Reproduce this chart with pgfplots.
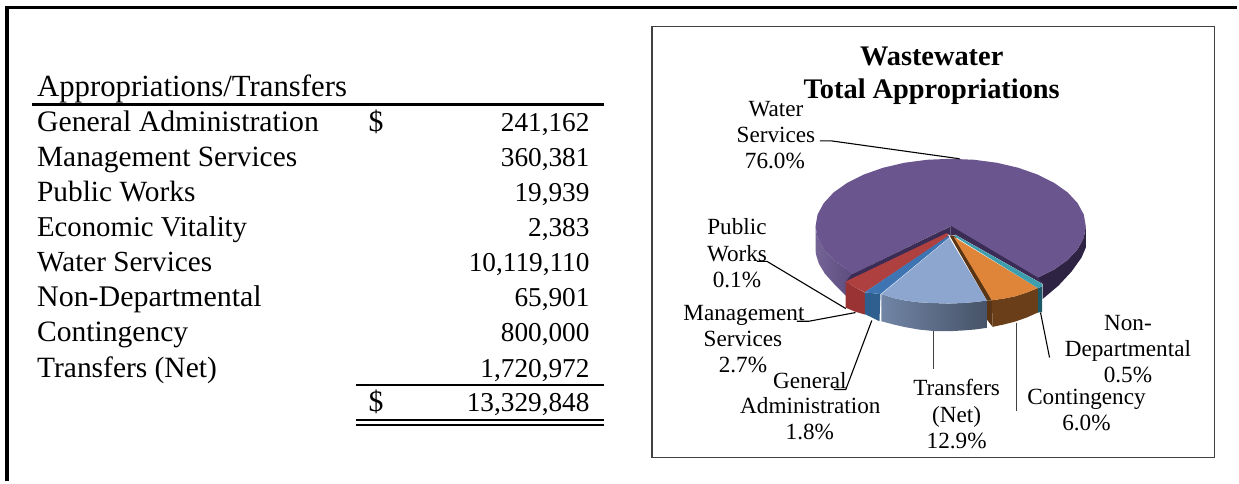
\documentclass[border=0pt]{standalone}
\usepackage{fontspec}
\setmainfont{Liberation Serif}
\usepackage{pgfplots}
\pgfplotsset{compat=1.18}
\definecolor{purpTop}{HTML}{6B558F}
\definecolor{purpSideL}{HTML}{65528A}
\definecolor{purpSideR}{HTML}{2E2342}
\definecolor{purpWall}{HTML}{3A2C55}
\definecolor{redTop}{HTML}{AF4040}
\definecolor{redSide}{HTML}{9A3434}
\definecolor{bluTop}{HTML}{3F74B2}
\definecolor{bluSide}{HTML}{2E5F8E}
\definecolor{trTop}{HTML}{8DA6CF}
\definecolor{orTop}{HTML}{DF853A}
\definecolor{orSide}{HTML}{6A3E18}
\definecolor{orWall}{HTML}{5A3515}
\definecolor{tlTop}{HTML}{3E9EAE}
\definecolor{tlSide}{HTML}{1C5866}
\newcommand{\lab}[3]{\node[anchor=base,font=\fontsize{23.2}{26}\selectfont,inner sep=0pt] at (axis cs:#1,#2) {#3};}
\newcommand{\ttl}[3]{\node[anchor=base,font=\fontsize{28.4}{32}\selectfont\bfseries,inner sep=0pt] at (axis cs:#1,#2) {#3};}
\newcommand{\rowl}[3]{\node[anchor=base west,font=\fontsize{#2}{34}\selectfont,inner sep=0pt] at (axis cs:37,#1) {#3};}
\newcommand{\rowr}[2]{\node[anchor=base east,font=\fontsize{27.3}{34}\selectfont,inner sep=0pt] at (axis cs:590.5,#1) {#2};}
\newcommand{\rowd}[1]{\node[anchor=base west,font=\fontsize{29.8}{34}\selectfont,inner sep=0pt] at (axis cs:369,#1) {\$};}
\begin{document}
\begin{tikzpicture}
\begin{axis}[
  scale only axis, width=1239pt, height=482pt,
  xmin=0, xmax=1239, ymin=0, ymax=482, y dir=reverse,
  hide axis, clip=false]
% page background
\addplot[fill=white,draw=none] coordinates {(0,0)(1239,0)(1239,482)(0,482)} -- cycle;
% outer frame
\addplot[black,line width=3.5pt] coordinates {(7,482)(7,7.5)(1239,7.5)};
% chart frame
\addplot[fill=white,draw=black!75,line width=1.3pt] coordinates {(653,26.7)(1216,26.7)(1216,458)(653,458)} -- cycle;
% table rules
\addplot[black,line width=3pt] coordinates {(32,104.5)(605,104.5)};
\addplot[black,line width=2.6pt] coordinates {(356,385.7)(605,385.7)};
\addplot[black,line width=2.6pt] coordinates {(356,420.7)(605,420.7)};
\addplot[black,line width=2.6pt] coordinates {(356,425.5)(605,425.5)};
% table text
\rowl{97}{30.8}{Appropriations/Transfers}
\rowl{132}{29.8}{General Administration}\rowd{132}\rowr{132}{241,162}
\rowl{167}{29.4}{Management Services}\rowr{167}{360,381}
\rowl{202}{29.4}{Public Works}\rowr{202}{19,939}
\rowl{237}{28.8}{Economic Vitality}\rowr{237}{2,383}
\rowl{272}{29.2}{Water Services}\rowr{272}{10,119,110}
\rowl{307}{30}{Non-Departmental}\rowr{307}{65,901}
\rowl{342}{29.6}{Contingency}\rowr{342}{800,000}
\rowl{378}{29.5}{Transfers (Net)}\rowr{378}{1,720,972}
\rowd{412}\rowr{412}{13,329,848}
% pie: side walls
\addplot[left color=purpSideL!90!white,right color=purpSideL!90!black,draw=none] coordinates {
 (816.7,226.5)(818.7,238.2)(824.9,249.6)(834.8,260.3)(848.4,269.9)(856.3,274.2)(847,296)(835,284)(826,274)(820,264)(816.9,254)} -- cycle;
\addplot[fill=purpSideR,draw=none] coordinates {
 (1039,278.2)(1055.6,269.9)(1069.2,260.3)(1079.1,249.6)(1085.3,238.2)(1087.3,226.5)(1087.3,248)(1083,258)(1073,272)(1060,286)(1044,299.5)(1044,284)} -- cycle;
% pie: Water Services top face
\addplot[fill=purpTop,draw=none] coordinates {
 (952,226.5)(1039,278.2)(1055.6,269.9)(1069.2,260.3)(1079.1,249.6)(1085.3,238.2)(1087.3,226.5)
 (1085.3,214.8)(1079.1,203.4)(1069.2,192.7)(1055.6,183.1)(1039,174.8)(1019.7,168)(998.3,163)(975.5,160)(952,159)
 (928.5,160)(905.7,163)(884.3,168)(865,174.8)(848.4,183.1)(834.8,192.7)(824.9,203.4)(818.7,214.8)(816.7,226.5)
 (818.7,238.2)(824.9,249.6)(834.8,260.3)(848.4,269.9)(853,275)} -- cycle;
% inner walls of Water Services
\addplot[fill=purpWall,draw=none] coordinates {(952,226)(1040,278.3)(1044,284.3)(956.7,235)(952,236)} -- cycle;
\addplot[fill=purpWall,draw=none] coordinates {(952,226.7)(852.7,275)(846.7,282.5)(948.3,234)(952,236)} -- cycle;
% Management Services
\addplot[fill=redSide,draw=none] coordinates {(846.7,282)(846.7,308)(856,312)(866,315)(866,293)(856,287.5)} -- cycle;
\addplot[fill=redTop,draw=none] coordinates {(948.3,233.3)(846.7,282)(856,287.5)(866,292.7)(950,236.7)} -- cycle;
% General Administration
\addplot[fill=bluSide,draw=none] coordinates {(866,292.7)(866,314.5)(880.7,321.7)(881.7,294.5)} -- cycle;
\addplot[fill=bluTop,draw=none] coordinates {(950,236)(866,292.7)(881.7,294.5)(950.7,237.7)} -- cycle;
% Contingency wall (behind the Transfers face)
\addplot[fill=orWall,draw=none] coordinates {(951,236)(988.3,301)(993.3,300.7)(956,236)} -- cycle;
\addplot[fill=orWall,draw=none] coordinates {(988.3,301)(993.3,300.7)(994,327.3)(988.3,320)} -- cycle;
% Transfers (Net)
\addplot[left color=trTop!80!black,right color=trTop!50!black,draw=none] coordinates {
 (882.7,294.5)(895,298.5)(906.7,301)(920,302.7)(935,303.5)(950,304)(963.3,303.5)(976,302.5)(988.3,301)
 (988.3,328.3)(976,330)(963.3,331)(950,331.7)(935,331.5)(920,330)(906,327.5)(895,325)(882.7,321.7)} -- cycle;
\addplot[fill=trTop,draw=none] coordinates {
 (950.7,238.3)(882.7,294.5)(895,298.5)(906.7,301)(920,302.7)(935,303.5)(950,304)(963.3,303.5)(976,302.5)(988.3,301)} -- cycle;
% Contingency
\addplot[fill=orSide,draw=none] coordinates {(993.3,300.7)(994,327.3)(1005,325)(1016.7,322)(1028,318)(1039.3,313)(1039.3,288.5)(1028,293)(1016.7,296.7)(1005,299)} -- cycle;
\addplot[fill=orTop,draw=none] coordinates {(955,237.3)(993.3,300.7)(1005,299)(1016.7,296.7)(1028,293)(1039.3,288.5)} -- cycle;
% Non-Departmental
\addplot[fill=tlSide,draw=none] coordinates {(1039.3,288.5)(1043.5,287)(1043.5,312.7)(1039.3,313)} -- cycle;
\addplot[fill=tlTop,draw=none] coordinates {(955.5,236.5)(1039.3,288.5)(1043.5,287)(1043.5,284.3)(957,235.5)} -- cycle;
% leader lines
\addplot[black,line width=1.1pt] coordinates {(821,141)(832,141)(961,159)};
\addplot[black,line width=1.1pt] coordinates {(758,261.7)(768,261.7)(847,309)};
\addplot[black,line width=1.1pt] coordinates {(798,321.7)(810,321.7)(856.7,313)};
\addplot[black,line width=1.1pt] coordinates {(835,390)(847,390)(873,321)};
\addplot[black!75,line width=1.1pt] coordinates {(935,331.7)(935,370)};
\addplot[black!75,line width=1.1pt] coordinates {(1018,323)(1018,412)};
\addplot[black,line width=1.1pt] coordinates {(1042,313)(1051,358)};
% title
\ttl{933}{66}{Wastewater}
\ttl{933}{99}{Total Appropriations}
% labels
\lab{777}{117}{Water}\lab{777}{143}{Services}\lab{776}{169}{76.0\%}
\lab{738}{235}{Public}\lab{738}{262}{Works}\lab{738}{288}{0.1\%}
\lab{745}{321}{Management}\lab{744}{347}{Services}\lab{744}{373}{2.7\%}
\lab{811}{389}{General}\lab{811.5}{414}{Administration}\lab{811}{440}{1.8\%}
\lab{958}{396}{Transfers}\lab{958}{423}{(Net)}\lab{958}{449}{12.9\%}
\lab{1129.5}{331}{Non-}\lab{1129.5}{357}{Departmental}\lab{1129.5}{383}{0.5\%}
\lab{1088}{405}{Contingency}\lab{1088}{431}{6.0\%}
\end{axis}
\end{tikzpicture}
\end{document}
